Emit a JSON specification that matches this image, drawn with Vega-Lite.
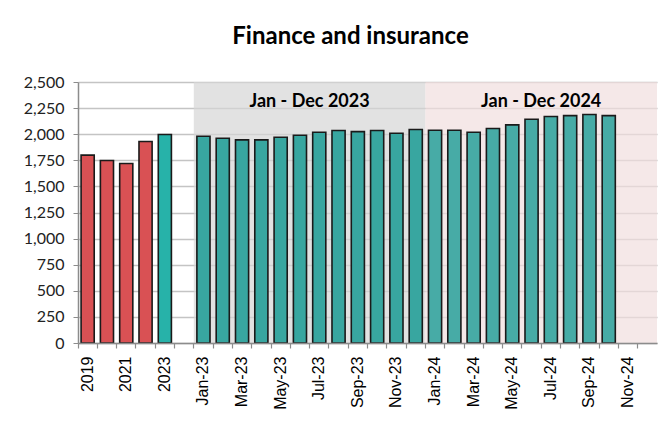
{
  "$schema": "https://vega.github.io/schema/vega-lite/v6.json",
  "autosize": "none",
  "width": 579,
  "height": 261,
  "padding": {"left": 78, "top": 82, "right": 13, "bottom": 83},
  "background": "white",
  "title": {
    "text": "Finance and insurance",
    "font": "Lato",
    "fontSize": 24,
    "fontWeight": "bold",
    "color": "black",
    "anchor": "middle",
    "dx": -17,
    "offset": 25
  },
  "datasets": {
    "values": [
      {"cat": "2019", "value": 1800, "group": "prior"},
      {"cat": "2020", "value": 1748, "group": "prior"},
      {"cat": "2021", "value": 1719, "group": "prior"},
      {"cat": "2022", "value": 1930, "group": "prior"},
      {"cat": "2023", "value": 1997, "group": "current"},
      {"cat": "Jan-23", "value": 1980, "group": "monthly2023"},
      {"cat": "Feb-23", "value": 1961, "group": "monthly2023"},
      {"cat": "Mar-23", "value": 1946, "group": "monthly2023"},
      {"cat": "Apr-23", "value": 1946, "group": "monthly2023"},
      {"cat": "May-23", "value": 1971, "group": "monthly2023"},
      {"cat": "Jun-23", "value": 1990, "group": "monthly2023"},
      {"cat": "Jul-23", "value": 2019, "group": "monthly2023"},
      {"cat": "Aug-23", "value": 2035, "group": "monthly2023"},
      {"cat": "Sep-23", "value": 2025, "group": "monthly2023"},
      {"cat": "Oct-23", "value": 2035, "group": "monthly2023"},
      {"cat": "Nov-23", "value": 2009, "group": "monthly2023"},
      {"cat": "Dec-23", "value": 2045, "group": "monthly2023"},
      {"cat": "Jan-24", "value": 2038, "group": "monthly2024"},
      {"cat": "Feb-24", "value": 2038, "group": "monthly2024"},
      {"cat": "Mar-24", "value": 2019, "group": "monthly2024"},
      {"cat": "Apr-24", "value": 2054, "group": "monthly2024"},
      {"cat": "May-24", "value": 2089, "group": "monthly2024"},
      {"cat": "Jun-24", "value": 2143, "group": "monthly2024"},
      {"cat": "Jul-24", "value": 2169, "group": "monthly2024"},
      {"cat": "Aug-24", "value": 2178, "group": "monthly2024"},
      {"cat": "Sep-24", "value": 2188, "group": "monthly2024"},
      {"cat": "Oct-24", "value": 2178, "group": "monthly2024"}
    ],
    "regions": [
      {"start": "Jan-23", "end": "Dec-23", "mid": "Jul-23", "label": "Jan - Dec 2023", "region": "2023"},
      {"start": "Jan-24", "end": "Dec-24", "mid": "Jul-24", "label": "Jan - Dec 2024", "region": "2024"}
    ]
  },
  "encoding": {
    "x": {
      "scale": {
        "domain": ["2019","2020","2021","2022","2023"," ","Jan-23","Feb-23","Mar-23","Apr-23","May-23","Jun-23","Jul-23","Aug-23","Sep-23","Oct-23","Nov-23","Dec-23","Jan-24","Feb-24","Mar-24","Apr-24","May-24","Jun-24","Jul-24","Aug-24","Sep-24","Oct-24","Nov-24","Dec-24"],
        "paddingInner": 0,
        "paddingOuter": 0
      }
    }
  },
  "layer": [
    {
      "data": {"name": "regions"},
      "mark": {"type": "rect", "opacity": 0.7},
      "encoding": {
        "x": {"field": "start", "type": "nominal", "bandPosition": 0, "title": null,
          "axis": {
            "orient": "bottom",
            "bandPosition": 0,
            "domainColor": "#8c8c8c",
            "domainWidth": 1.5,
            "tickColor": "#8c8c8c",
            "tickWidth": 1.2,
            "tickSize": 5,
            "labelAngle": -90,
            "labelFont": "Liberation Sans",
            "labelFontSize": 16,
            "labelColor": "black",
            "labelPadding": 8,
            "labelExpr": "indexof(['2019','2021','2023','Jan-23','Mar-23','May-23','Jul-23','Sep-23','Nov-23','Jan-24','Mar-24','May-24','Jul-24','Sep-24','Nov-24'], datum.value) >= 0 ? datum.value : ''",
            "grid": false
          }
        },
        "x2": {"field": "end", "bandPosition": 1},
        "y": {
          "datum": 0, "type": "quantitative", "title": null,
          "scale": {"domain": [0, 2500], "nice": false},
          "axis": {
            "values": [0, 250, 500, 750, 1000, 1250, 1500, 1750, 2000, 2250, 2500],
            "labelExpr": "format(datum.value, ',')",
            "domainColor": "#8c8c8c",
            "domainWidth": 1.5,
            "tickColor": "#8c8c8c",
            "tickSize": 5,
            "labelFont": "Lato",
            "labelFontSize": 16,
            "labelColor": "#222222",
            "labelPadding": 9,
            "grid": true,
            "gridColor": "#c4c4c4",
            "gridWidth": 1.4
          }
        },
        "y2": {"datum": 2500},
        "fill": {
          "field": "region", "type": "nominal",
          "scale": {"domain": ["2023", "2024"], "range": ["#d6d6d6", "#f1dede"]},
          "legend": null
        }
      }
    },
    {
      "data": {"name": "values"},
      "mark": {"type": "bar", "width": {"band": 0.68}, "stroke": "#1a1a1a", "strokeWidth": 1.6},
      "encoding": {
        "x": {"field": "cat", "type": "nominal", "sort": null},
        "y": {
          "field": "value", "type": "quantitative", "title": null,
          "axis": {
            "values": [0, 250, 500, 750, 1000, 1250, 1500, 1750, 2000, 2250, 2500],
            "labelExpr": "format(datum.value, ',')",
            "domainColor": "#8c8c8c",
            "domainWidth": 1.5,
            "tickColor": "#8c8c8c",
            "tickSize": 5,
            "labelFont": "Lato",
            "labelFontSize": 16,
            "labelColor": "#222222",
            "labelPadding": 9,
            "grid": true,
            "gridColor": "#c4c4c4",
            "gridWidth": 1.4
          }
        },
        "color": {
          "field": "group", "type": "nominal",
          "scale": {"domain": ["prior", "current", "monthly2023", "monthly2024"], "range": ["#d95154", "#27b2a9", "#38a6a0", "#47aba6"]},
          "legend": null
        }
      }
    },
    {
      "data": {"name": "regions"},
      "mark": {"type": "text", "font": "Lato", "fontSize": 18, "fontWeight": "bold", "color": "black", "baseline": "middle"},
      "encoding": {
        "x": {"field": "mid", "type": "nominal", "bandPosition": 0},
        "y": {
          "datum": 2310, "type": "quantitative", "title": null,
          "axis": {
            "values": [0, 250, 500, 750, 1000, 1250, 1500, 1750, 2000, 2250, 2500],
            "labelExpr": "format(datum.value, ',')",
            "domainColor": "#8c8c8c",
            "domainWidth": 1.5,
            "tickColor": "#8c8c8c",
            "tickSize": 5,
            "labelFont": "Lato",
            "labelFontSize": 16,
            "labelColor": "#222222",
            "labelPadding": 9,
            "grid": true,
            "gridColor": "#c4c4c4",
            "gridWidth": 1.4
          }
        },
        "text": {"field": "label"}
      }
    }
  ],
  "config": {
    "view": {"stroke": null},
    "axis": {"labelFontWeight": "normal"}
  }
}
